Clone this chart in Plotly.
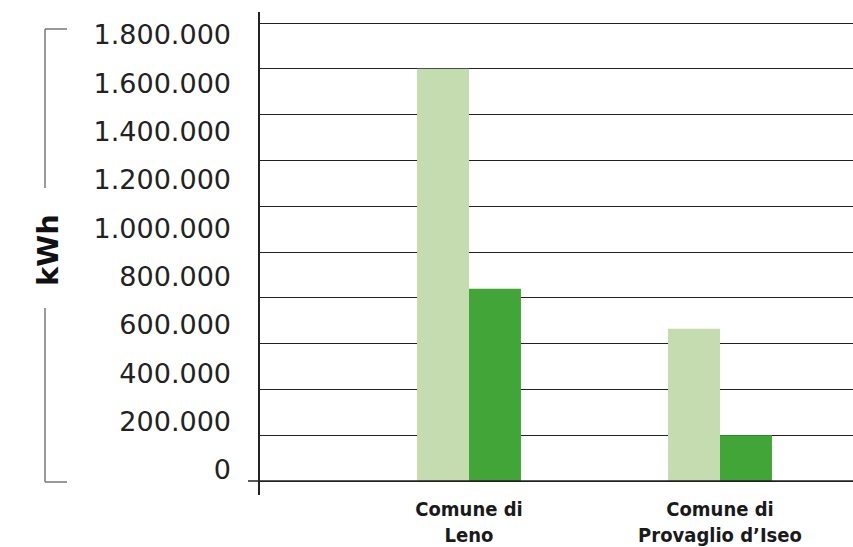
import plotly.graph_objects as go

# ---- data ----
categories = ["Comune di<br>Leno", "Comune di<br>Provaglio d’Iseo"]
light_vals = [1800000, 665000]
dark_vals = [840000, 200000]
tick_values = [0, 200000, 400000, 600000, 800000, 1000000, 1200000, 1400000, 1600000, 1800000]
tick_labels = ["0", "200.000", "400.000", "600.000", "800.000", "1.000.000",
               "1.200.000", "1.400.000", "1.600.000", "1.800.000"]
y_title = "kWh"

# ---- layout geometry (screen pixels) ----
W, H = 853, 547
plot_left, plot_top, plot_bottom = 260, 12, 495
L = plot_left
T = plot_top
B = H - plot_bottom
R = 0
PW, PH = W - L - R, H - T - B


def px_x(p):
    return (p - plot_left) / PW


def px_y(p):
    return (plot_bottom - p) / PH


# main axis: 0 at 481px, 2,000,000 at 23px
u_per_px = 2000000 / (481 - 23)
y_range = [-(plot_bottom - 481) * u_per_px, 2000000 + (23 - plot_top) * u_per_px]
# label axis: 0 at 470px, 1,800,000 at 35px
u2_per_px = 1800000 / (470 - 35)
y2_range = [-(plot_bottom - 470) * u2_per_px, 1800000 + (35 - plot_top) * u2_per_px]

# categories centered at 469px and 720px
cat_px = 720 - 469
x_range = [-(469 - plot_left) / cat_px, (plot_left + PW - 469) / cat_px]

fig = go.Figure()
fig.add_trace(go.Bar(x=categories, y=light_vals, marker=dict(color="#C5DCB1", line=dict(width=0))))
fig.add_trace(go.Bar(x=categories, y=dark_vals, marker=dict(color="#41A537", line=dict(width=0))))
# empty trace so the label axis is rendered
fig.add_trace(go.Scatter(x=[], y=[], yaxis="y2", hoverinfo="skip"))

fig.update_layout(
    width=W, height=H,
    margin=dict(l=L, r=R, t=T, b=B, autoexpand=False),
    paper_bgcolor="white", plot_bgcolor="white",
    showlegend=False,
    barmode="group", bargap=0.586, bargroupgap=0,
    xaxis=dict(type="category", range=x_range, showgrid=False, showline=False, zeroline=False,
               ticks="", ticklabelstandoff=0,
               tickfont=dict(family="DejaVu Sans Condensed, sans-serif",
                             size=20, color="#1a1a1a", weight="bold")),
    yaxis=dict(range=y_range, dtick=200000, tick0=0, showgrid=True, gridcolor="#222222",
               gridwidth=1, zeroline=False, showticklabels=False, ticks="",
               showline=True, linecolor="#222222", linewidth=1.5),
    yaxis2=dict(overlaying="y", side="left", range=y2_range, tickmode="array",
                tickvals=tick_values, ticktext=tick_labels, showgrid=False, zeroline=False,
                showline=False, ticks="", ticklabelstandoff=28,
                tickfont=dict(family="DejaVu Sans, sans-serif", size=27, color="#222222")),
)

# x axis baseline extending slightly left of the y axis
fig.add_shape(type="line", xref="paper", yref="y", x0=px_x(248), x1=1, y0=0, y1=0,
              line=dict(color="#222222", width=1.5))

# bracket around the y-axis title
br = dict(color="#777777", width=1.5)
for (x0, y0, x1, y1) in [(45, 29, 67, 29), (45, 29, 45, 188), (45, 308, 45, 482), (45, 482, 67, 482)]:
    fig.add_shape(type="line", xref="paper", yref="paper",
                  x0=px_x(x0), y0=px_y(y0), x1=px_x(x1), y1=px_y(y1), line=br)

fig.add_annotation(text="<b>" + y_title + "</b>", xref="paper", yref="paper",
                   x=px_x(48), y=px_y(250), showarrow=False, textangle=-90,
                   font=dict(family="DejaVu Sans, sans-serif", size=29, color="#111111"),
                   xanchor="center", yanchor="middle")

fig.write_html("out.html",
               config={"displayModeBar": False},
               post_script="document.body.style.margin='0';document.body.style.overflow='hidden';"
                           "document.documentElement.style.overflow='hidden';")
